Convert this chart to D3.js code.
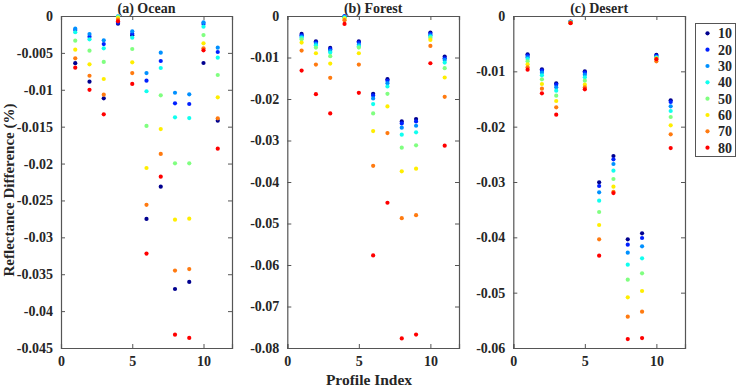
<!DOCTYPE html>
<html>
<head>
<meta charset="utf-8">
<title>Reflectance Difference</title>
<script src="https://d3js.org/d3.v7.min.js"></script>
<style>
  body { margin: 0; background: #fff; }
  text { font-family: "Liberation Serif", "Times New Roman", serif; font-weight: bold; fill: #262626; }
</style>
</head>
<body>
<script>

	// data
	var profiles = [1, 2, 3, 4, 5, 6, 7, 8, 9, 10, 11];
	var seriesNames = ["10", "20", "30", "40", "50", "60", "70", "80"];
	var seriesColors = ["#00008f", "#0020ff", "#0090ff", "#10ffef", "#80ff80", "#ffee00", "#ff7a10", "#ff0000"];

	var oceanTicks = [0, -0.005, -0.01, -0.015, -0.02, -0.025, -0.03, -0.035, -0.04, -0.045];
	var forestTicks = [0, -0.01, -0.02, -0.03, -0.04, -0.05, -0.06, -0.07, -0.08];
	var desertTicks = [0, -0.01, -0.02, -0.03, -0.04, -0.05, -0.06];
	var xTicks = [0, 5, 10];

	// rows = series 10..80, columns = profile 1..11
	var ocean = [
		[-0.0064, -0.0089, -0.01116, -0.00104, -0.0026, -0.0275, -0.02313, -0.0370, -0.03605, -0.00637, -0.01419],
		[-0.0019, -0.0028, -0.0038, -0.0009, -0.0024, -0.00876, -0.0061, -0.01184, -0.01193, -0.00108, -0.00488],
		[-0.00172, -0.00244, -0.0033, -0.00005, -0.00208, -0.00773, -0.00497, -0.0104, -0.01062, -0.00086, -0.00429],
		[-0.0022, -0.00316, -0.00438, -0.0001, -0.00294, -0.0102, -0.00705, -0.01373, -0.01383, -0.00145, -0.00565],
		[-0.00334, -0.0047, -0.00623, -0.00015, -0.00447, -0.0149, -0.01075, -0.01997, -0.01997, -0.00258, -0.008],
		[-0.00456, -0.00655, -0.00854, -0.00027, -0.00628, -0.0206, -0.01532, -0.0276, -0.02747, -0.0037, -0.01102],
		[-0.00574, -0.0081, -0.01066, -0.0005, -0.00773, -0.0256, -0.0187, -0.0345, -0.0343, -0.00438, -0.01387],
		[-0.0070, -0.0100, -0.01333, -0.00072, -0.0092, -0.0322, -0.02178, -0.0432, -0.04364, -0.00465, -0.01798]
	];
	var forest = [
		[-0.00433, -0.00609, -0.00769, -0.0001, -0.00609, -0.01875, -0.01522, -0.0254, -0.02484, -0.004, -0.00978],
		[-0.00465, -0.00641, -0.008, -0.0001, -0.00641, -0.01915, -0.01562, -0.02588, -0.0254, -0.00433, -0.01018],
		[-0.00497, -0.00673, -0.00841, -0.0002, -0.0069, -0.01987, -0.01618, -0.02692, -0.02644, -0.00465, -0.01058],
		[-0.00529, -0.00705, -0.00881, -0.0003, -0.0073, -0.02123, -0.01699, -0.0286, -0.02804, -0.00497, -0.01122],
		[-0.0056, -0.00761, -0.00969, -0.0005, -0.00761, -0.02348, -0.01875, -0.03173, -0.03117, -0.00529, -0.01258],
		[-0.00641, -0.00897, -0.01146, -0.0007, -0.00897, -0.02772, -0.0218, -0.03742, -0.03678, -0.00577, -0.01482],
		[-0.00833, -0.0117, -0.0149, -0.0010, -0.0117, -0.0361, -0.0282, -0.04872, -0.048, -0.00721, -0.01947],
		[-0.01314, -0.01883, -0.02348, -0.00192, -0.0185, -0.0577, -0.045, -0.0777, -0.07676, -0.01138, -0.03125]
	];
	var desert = [
		[-0.00693, -0.00964, -0.01217, -0.0010, -0.0100, -0.03006, -0.0253, -0.04036, -0.03928, -0.0070, -0.01524],
		[-0.00717, -0.00988, -0.01241, -0.00105, -0.01024, -0.03072, -0.0259, -0.04133, -0.04012, -0.0072, -0.01554],
		[-0.00747, -0.01024, -0.01289, -0.0011, -0.0106, -0.03187, -0.02675, -0.04277, -0.04163, -0.0074, -0.01632],
		[-0.00777, -0.01072, -0.01349, -0.00115, -0.01109, -0.03337, -0.02795, -0.04494, -0.04379, -0.0075, -0.01717],
		[-0.00819, -0.01145, -0.0144, -0.0012, -0.01169, -0.03542, -0.02946, -0.04765, -0.0465, -0.0076, -0.01825],
		[-0.00873, -0.01229, -0.01536, -0.0012, -0.01241, -0.03777, -0.03084, -0.05084, -0.0497, -0.0077, -0.01976],
		[-0.00928, -0.01314, -0.0165, -0.00125, -0.01289, -0.04036, -0.0318, -0.05434, -0.05344, -0.0082, -0.02139],
		[-0.0097, -0.01398, -0.01783, -0.0013, -0.01325, -0.04332, -0.0320, -0.05838, -0.0582, -0.0078, -0.02386]
	];

	var panels = [
		{ title: "(a) Ocean", values: ocean, ticks: oceanTicks, left: 61, right: 232 },
		{ title: "(b) Forest", values: forest, ticks: forestTicks, left: 287.3, right: 459 },
		{ title: "(c) Desert", values: desert, ticks: desertTicks, left: 513.3, right: 685 }
	];

	// layout (window.top is reserved, so plotTop / plotBottom)
	var W = 736, H = 387, plotTop = 16, plotBottom = 348;
	var axisColor = "#555";

	var svg = d3.select("body").append("svg")
		.attr("width", W)
		.attr("height", H);

	panels.forEach(function (p) {
		var x = d3.scaleLinear().domain([0, 12]).range([p.left, p.right]);
		var y = d3.scaleLinear().domain([0, p.ticks[p.ticks.length - 1]]).range([plotTop, plotBottom]);
		var g = svg.append("g");
		var fmt = function (d) { return d === 0 ? "0" : String(d); };

		// box with mirrored inward ticks
		g.append("g").attr("transform", "translate(0," + plotBottom + ")")
			.call(d3.axisBottom(x).tickValues(xTicks).tickSize(-4).tickPadding(8).tickFormat(d3.format("d")));
		g.append("g").attr("transform", "translate(0," + plotTop + ")")
			.call(d3.axisTop(x).tickValues(xTicks).tickSize(-4).tickFormat(""));
		g.append("g").attr("transform", "translate(" + p.left + ",0)")
			.call(d3.axisLeft(y).tickValues(p.ticks).tickSize(-4).tickPadding(8).tickFormat(fmt));
		g.append("g").attr("transform", "translate(" + p.right + ",0)")
			.call(d3.axisRight(y).tickValues(p.ticks).tickSize(-4).tickFormat(""));

		g.selectAll(".domain").attr("stroke", axisColor).attr("stroke-width", 1.2);
		g.selectAll(".tick line").attr("stroke", axisColor);
		g.selectAll(".tick text")
			.attr("font-family", "Liberation Serif, Times New Roman, serif")
			.attr("font-weight", "bold")
			.attr("font-size", 14)
			.attr("fill", "#262626");

		// title
		g.append("text")
			.attr("x", (p.left + p.right) / 2)
			.attr("y", 13)
			.attr("text-anchor", "middle")
			.attr("font-size", 14)
			.text(p.title);

		// dots, 10 first so 80 stays on top
		p.values.forEach(function (row, si) {
			g.append("g").selectAll("circle")
				.data(row)
				.enter().append("circle")
				.attr("cx", function (d, i) { return x(profiles[i]); })
				.attr("cy", function (d) { return y(d); })
				.attr("r", 2.1)
				.attr("fill", seriesColors[si]);
		});
	});

	// axis labels
	svg.append("text")
		.attr("transform", "translate(14,190) rotate(-90)")
		.attr("text-anchor", "middle")
		.attr("font-size", 15)
		.text("Reflectance Difference (%)");

	svg.append("text")
		.attr("x", 369)
		.attr("y", 385)
		.attr("text-anchor", "middle")
		.attr("font-size", 15.5)
		.text("Profile Index");

	// legend
	var legend = svg.append("g");
	legend.append("rect")
		.attr("x", 695.5).attr("y", 23.5)
		.attr("width", 40).attr("height", 133)
		.attr("fill", "#fff")
		.attr("stroke", axisColor)
		.attr("stroke-width", 1);

	var ly = d3.scalePoint().domain(seriesNames).range([33.3, 147.7]);
	seriesNames.forEach(function (s, i) {
		legend.append("circle")
			.attr("cx", 707.5).attr("cy", ly(s))
			.attr("r", 2.1)
			.attr("fill", seriesColors[i]);
		legend.append("text")
			.attr("x", 718).attr("y", ly(s) + 5)
			.attr("font-size", 14)
			.text(s);
	});

</script>
</body>
</html>
